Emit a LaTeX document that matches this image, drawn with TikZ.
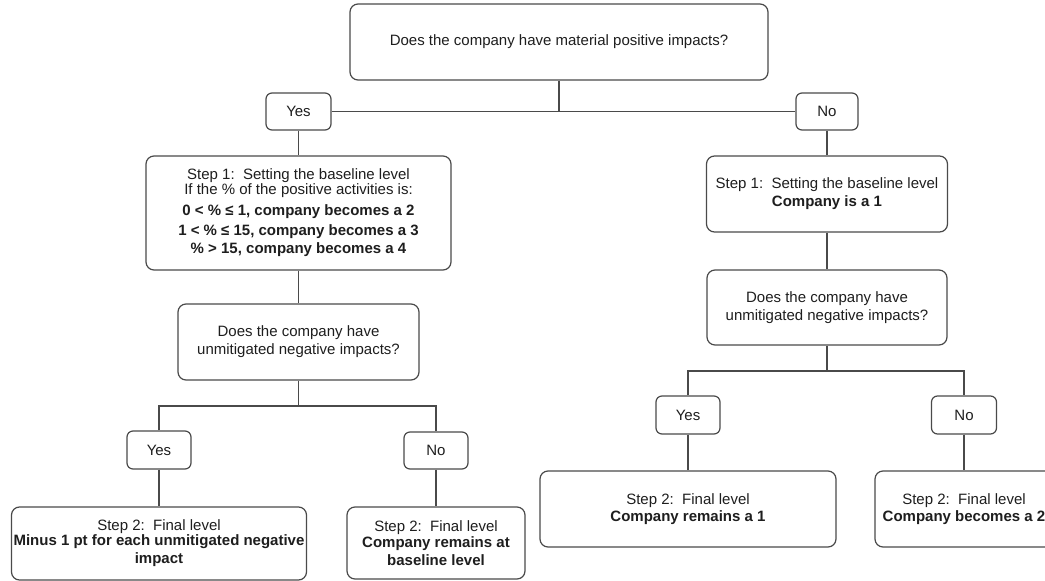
\documentclass[tikz,border=0pt]{standalone}
\usepackage{fontspec}
\setmainfont{Liberation Sans}
\definecolor{edge}{HTML}{4A4A4A}
\definecolor{txt}{HTML}{1E1E1E}
\begin{document}
\begin{tikzpicture}[x=1pt,y=-1pt,
  box/.style={draw=edge, line width=1.2pt, rounded corners=8pt, fill=white,
    align=center, inner sep=0pt, text=txt,
    font=\fontsize{15}{18}\selectfont},
  tag/.style={box, rounded corners=6pt},
  link/.style={draw=edge, line width=1.2pt}]
\useasboundingbox (0,0) rectangle (1045,581);
\clip (0,0) rectangle (1045,581);

% nodes
\node[box, minimum width=418pt, minimum height=76pt] (top) at (559,42)
  {Does the company have material positive impacts?};
\node[tag, minimum width=65pt, minimum height=37pt] (yes1) at (298.5,111.5) {Yes};
\node[tag, minimum width=62pt, minimum height=37pt] (no1) at (827,111.5) {No};

\node[box, minimum width=305pt, minimum height=114pt] (s1L) at (298.5,213)
  {Step 1:\ \ Setting the baseline level\\[-3pt]
   If the \% of the positive activities is:\\[3pt]
   \textbf{0 < \% ≤ 1, company becomes a 2}\\[2pt]
   \textbf{1 < \% ≤ 15, company becomes a 3}\\[0pt]
   \textbf{\% > 15, company becomes a 4}};
\node[box, minimum width=241pt, minimum height=76pt] (s1R) at (827,194)
  {Step 1:\ \ Setting the baseline level\\ \textbf{Company is a 1}};

\node[box, minimum width=241pt, minimum height=76pt] (qL) at (298.5,342)
  {Does the company have\\ unmitigated negative impacts?};
\node[box, minimum width=240pt, minimum height=75pt] (qR) at (827,307.5)
  {Does the company have\\ unmitigated negative impacts?};

\coordinate (hL) at (298.5,406);
\coordinate (hR) at (827,371);

\node[tag, minimum width=64pt, minimum height=38pt] (yes2) at (159,450) {Yes};
\node[tag, minimum width=64pt, minimum height=37pt] (no2) at (436,450.5) {No};
\node[tag, minimum width=64pt, minimum height=38pt] (yes3) at (688,415) {Yes};
\node[tag, minimum width=65pt, minimum height=38pt] (no3) at (964,415) {No};

\node[box, minimum width=295pt, minimum height=73pt] (s2L) at (159,543.5)
  {Step 2:\ \ Final level\\[-3pt]
   \textbf{Minus 1 pt for each unmitigated negative}\\
   \textbf{impact}};
\node[box, minimum width=178pt, minimum height=72pt] (s2M) at (436,543)
  {Step 2:\ \ Final level\\[-2pt]
   \textbf{Company remains at}\\
   \textbf{baseline level}};
\node[box, minimum width=296pt, minimum height=76pt] (s2R1) at (688,509)
  {Step 2:\ \ Final level\\[-1pt] \textbf{Company remains a 1}};
\node[box, minimum width=178pt, minimum height=76pt] (s2R2) at (964,509)
  {Step 2:\ \ Final level\\[-1pt] \textbf{Company becomes a 2}};

% connectors
\draw[link] (yes1.east) -- (no1.west);
\draw[link] (top.south) -- (top.south |- yes1.east);
\draw[link] (yes1.south) -- (s1L.north);
\draw[link] (no1.south) -- (s1R.north);

\draw[link] (s1L.south) -- (qL.north);
\draw[link] (qL.south) -- (hL);
\draw[link] (yes2.north) |- (hL) -| (no2.north);
\draw[link] (yes2.south) -- (s2L.north);
\draw[link] (no2.south) -- (s2M.north);

\draw[link] (s1R.south) -- (qR.north);
\draw[link] (qR.south) -- (hR);
\draw[link] (yes3.north) |- (hR) -| (no3.north);
\draw[link] (yes3.south) -- (s2R1.north);
\draw[link] (no3.south) -- (s2R2.north);
\end{tikzpicture}
\end{document}
